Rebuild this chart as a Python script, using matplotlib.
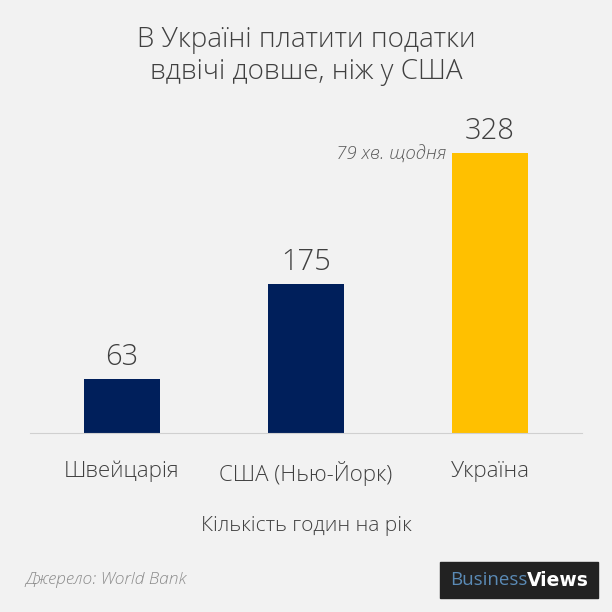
import matplotlib.pyplot as plt
from matplotlib.patches import Rectangle

categories = ['Швейцарія', 'США (Нью-Йорк)', 'Україна']
hours = [63, 175, 328]
colors = ['#001f5b', '#001f5b', '#ffc000']
note = '79 хв. щодня'

plt.rcParams['font.family'] = ['Open Sans', 'DejaVu Sans']
light = ['Open Sans Light', 'Open Sans', 'DejaVu Sans']

fig = plt.figure(figsize=(6.12, 6.12), dpi=100)
fig.patch.set_facecolor('#f2f2f2')
ax = fig.add_axes([30 / 612, 179 / 612, 552 / 612, 299 / 612])
ax.set_facecolor('#f2f2f2')

x = range(len(categories))
bars = ax.bar(x, hours, width=0.41, color=colors)
ax.set_xlim(-0.5, 2.5)
ax.set_ylim(0, 350)

for b, v in zip(bars, hours):
    ax.text(b.get_x() + b.get_width() / 2, v + 8, str(v), ha='center', va='bottom',
            fontsize=21, color='#404040', fontweight='light', family=light)

ax.text(bars[2].get_x() - 0.03, hours[2] - 2, note, ha='right', va='center',
        fontsize=13.5, style='italic', color='#595959', fontweight='light', family=light)

for s in ['top', 'right', 'left']:
    ax.spines[s].set_visible(False)
ax.spines['bottom'].set_color('#d0d0d0')
ax.set_yticks([])
ax.set_xticks(list(x))
ax.set_xticklabels(categories, fontsize=16, color='#404040', fontweight='light', family=light)
ax.tick_params(axis='x', length=0, pad=20)

fig.text(0.5, 556 / 612, 'В Україні платити податки\nвдвічі довше, ніж у США',
         ha='center', va='center', fontsize=20, color='#404040', linespacing=1.2,
         fontweight='light', family=light)
fig.text(0.5, 86 / 612, 'Кількість годин на рік', ha='center', va='center',
         fontsize=15, color='#404040', fontweight='light', family=light)
fig.text(25 / 612, 32 / 612, 'Джерело: World Bank', ha='left', va='center',
         fontsize=12.5, style='italic', color='#8c8c8c', fontweight='light', family=light)

# logo
fig.patches.append(Rectangle((440 / 612, 14 / 612), 158 / 612, 36 / 612,
                             transform=fig.transFigure, color='#222222'))
t1 = fig.text(450 / 612, 32 / 612, 'Business', ha='left', va='center',
              fontsize=13.5, color='#5a8ab5')
fig.canvas.draw()
bb = t1.get_window_extent().transformed(fig.transFigure.inverted())
fig.text(bb.x1, 32 / 612, 'Views', ha='left', va='center',
         fontsize=13.5, color='white', fontweight='bold', family='DejaVu Sans')

fig.savefig('out.png', dpi=100, facecolor=fig.get_facecolor())
